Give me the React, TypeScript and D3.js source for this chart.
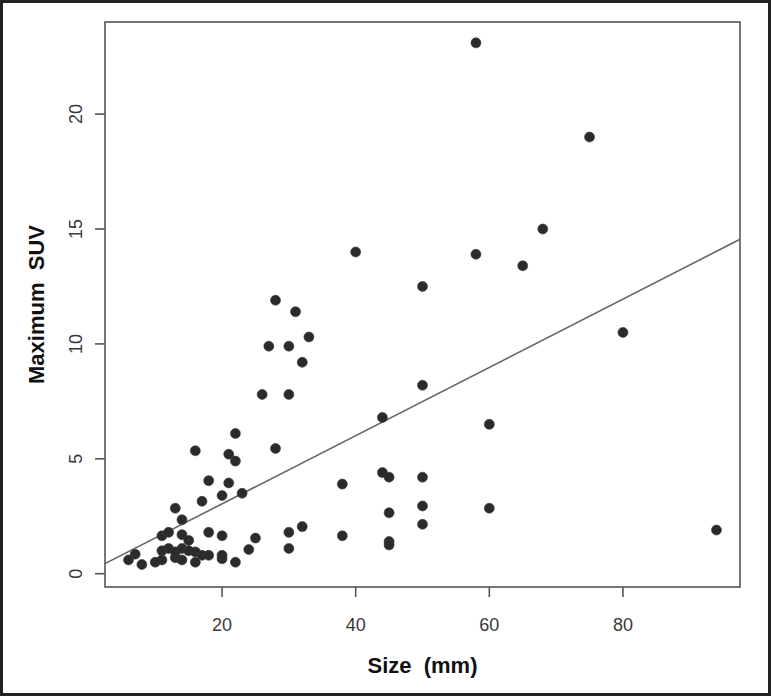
import React from "react";
import * as d3 from "d3";

const sizeMm: number[] = [
  6, 7, 8, 10, 11, 11, 11, 12, 12, 13, 13, 13, 14, 14, 14, 14, 15, 15, 16, 16, 16,
  17, 17, 18, 18, 18, 20, 20, 20, 20, 21, 21, 22, 22, 22, 23, 24, 25, 26, 27, 28, 28,
  30, 30, 30, 30, 31, 32, 32, 33, 38, 38, 40, 44, 44, 45, 45, 45, 45, 50, 50, 50, 50,
  50, 58, 58, 60, 60, 65, 68, 75, 80, 94,
];
const maxSuv: number[] = [
  0.6, 0.85, 0.4, 0.5, 0.6, 1.0, 1.65, 1.1, 1.8, 0.7, 0.95, 2.85, 0.6, 1.1, 1.7, 2.35, 1.0, 1.45, 0.5, 0.95, 5.35,
  0.8, 3.15, 0.8, 1.8, 4.05, 0.65, 0.8, 1.65, 3.4, 3.95, 5.2, 0.5, 4.9, 6.1, 3.5, 1.05, 1.55, 7.8, 9.9, 5.45, 11.9,
  1.1, 1.8, 7.8, 9.9, 11.4, 2.05, 9.2, 10.3, 1.65, 3.9, 14.0, 6.8, 4.4, 4.2, 2.65, 1.4, 1.25, 2.15, 2.95, 4.2, 8.2,
  12.5, 13.9, 23.1, 2.85, 6.5, 13.4, 15.0, 19.0, 10.5, 1.9,
];
const xTicks: number[] = [20, 40, 60, 80];
const yTicks: number[] = [0, 5, 10, 15, 20];
const fitIntercept = 0.07;
const fitSlope = 0.1485;
const xLabel = "Size  (mm)";
const yLabel = "Maximum  SUV";

export default function App() {
  const W = 771;
  const H = 696;
  const left = 105, right = 740, top = 22, bottom = 587;
  const xMin = d3.min(sizeMm)!, xMax = d3.max(sizeMm)!;
  const yMin = d3.min(maxSuv)!, yMax = d3.max(maxSuv)!;
  const xPad = (xMax - xMin) * 0.04;
  const yPad = (yMax - yMin) * 0.04;
  const x = d3.scaleLinear().domain([xMin - xPad, xMax + xPad]).range([left, right]);
  const y = d3.scaleLinear().domain([yMin - yPad - 0.07, yMax + yPad]).range([bottom, top]);
  const [dx0, dx1] = x.domain();
  const line = d3.line<number>().x((d) => x(d)).y((d) => y(fitIntercept + fitSlope * d));
  const font = "'Liberation Sans', Arial, Helvetica, sans-serif";

  return (
    <svg
      width={W}
      height={H}
      style={{ position: "absolute", left: 0, top: 0, background: "#fff" }}
    >
      <rect x={0} y={0} width={W} height={H} fill="#fff" />
      <rect x={1.5} y={1.5} width={W - 3} height={H - 3} fill="none" stroke="#222" strokeWidth={3} />
      <defs>
        <clipPath id="plotclip">
          <rect x={left} y={top} width={right - left} height={bottom - top} />
        </clipPath>
      </defs>
      <rect x={left} y={top} width={right - left} height={bottom - top} fill="none" stroke="#555" strokeWidth={1.6} />
      {xTicks.map((t) => (
        <g key={"x" + t}>
          <line x1={x(t)} x2={x(t)} y1={bottom} y2={bottom + 10} stroke="#555" strokeWidth={1.6} />
          <text x={x(t)} y={625} textAnchor="middle" dominantBaseline="central" fontFamily={font} fontSize={18} fill="#3a3a3a">
            {t}
          </text>
        </g>
      ))}
      {yTicks.map((t) => (
        <g key={"y" + t}>
          <line x1={left - 10} x2={left} y1={y(t)} y2={y(t)} stroke="#555" strokeWidth={1.6} />
          <text
            transform={`translate(76,${y(t)}) rotate(-90)`}
            textAnchor="middle"
            dominantBaseline="central"
            fontFamily={font}
            fontSize={18}
            fill="#3a3a3a"
          >
            {t}
          </text>
        </g>
      ))}
      <g clipPath="url(#plotclip)">
        <path d={line([dx0, dx1]) || ""} fill="none" stroke="#666" strokeWidth={1.6} />
      </g>
      {sizeMm.map((s, i) => (
        <circle key={i} cx={x(s)} cy={y(maxSuv[i])} r={5} fill="#2b2b2b" stroke="#3a3a3a" strokeWidth={0.6} />
      ))}
      <text
        x={(left + right) / 2}
        y={665}
        textAnchor="middle"
        dominantBaseline="central"
        fontFamily={font}
        fontSize={22}
        fontWeight="bold"
        fill="#111"
        style={{ whiteSpace: "pre" }}
      >
        {xLabel}
      </text>
      <text
        transform={`translate(36,${(top + bottom) / 2}) rotate(-90)`}
        textAnchor="middle"
        dominantBaseline="central"
        fontFamily={font}
        fontSize={22}
        fontWeight="bold"
        fill="#111"
        style={{ whiteSpace: "pre" }}
      >
        {yLabel}
      </text>
    </svg>
  );
}
